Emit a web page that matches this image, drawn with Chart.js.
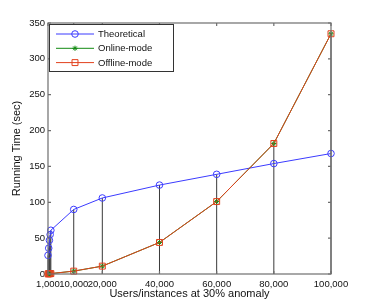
<!DOCTYPE html>
<html>
<head>
<meta charset="utf-8">
<script src="https://cdn.jsdelivr.net/npm/chart.js@4/dist/chart.umd.min.js"></script>
<style>
  html, body { margin: 0; padding: 0; background: #fff; }
  #wrap { width: 365px; height: 308px; position: relative; }
</style>
</head>
<body>
<div id="wrap"><canvas id="chart"></canvas></div>
<script>
const usersX = [1000, 1250, 1500, 1750, 2000, 10000, 20000, 40000, 60000, 80000, 100000];
const theoretical = [26, 36, 47, 55, 61, 90, 106, 124, 139, 154, 168];
const onlineMode = [0.2, 0.3, 0.4, 0.5, 0.6, 4, 11, 44, 101, 182, 335];
const offlineMode = [0.2, 0.3, 0.4, 0.5, 0.6, 4, 11, 44, 101, 182, 335];
const xTickValues = [1000, 10000, 20000, 40000, 60000, 80000, 100000];
const yTickValues = [0, 50, 100, 150, 200, 250, 300, 350];

const FONT = "'Liberation Sans', Arial, Helvetica, sans-serif";

function pts(ys) {
    return usersX.map(function (x, i) { return { x: x, y: ys[i] }; });
}

// vertical stems from 0 up to the highest series value at each x
const stems = usersX.map(function (x, i) {
    const top = Math.max(theoretical[i], onlineMode[i], offlineMode[i]);
    return {
        type: 'line',
        data: [{ x: x, y: 0 }, { x: x, y: top }],
        borderColor: '#3a3a3a',
        borderWidth: 1,
        pointRadius: 0,
        clip: false,
        order: 10
    };
});

const series = [
    { label: 'Theoretical', data: pts(theoretical), color: '#3b3bff', style: 'circle', radius: 3.3 },
    { label: 'Online-mode', data: pts(onlineMode), color: '#128a12', style: 'star', radius: 2.6 },
    { label: 'Offline-mode', data: pts(offlineMode), color: '#e2401c', style: 'rect', radius: 4.2 }
];

const seriesDatasets = series.map(function (s, k) {
    return {
        type: 'line',
        label: s.label,
        data: s.data,
        borderColor: s.color,
        borderWidth: 1,
        tension: 0,
        pointStyle: s.style,
        pointRadius: s.radius,
        pointBorderColor: s.color,
        pointBackgroundColor: 'rgba(0,0,0,0)',
        pointBorderWidth: 1,
        clip: false,
        order: 3 - k
    };
});

const framePlugin = {
    id: 'frame',
    afterDatasetsDraw: function (chart) {
        const ctx = chart.ctx;
        const a = chart.chartArea;
        const xs = chart.scales.x;
        const ys = chart.scales.y;
        ctx.save();
        ctx.strokeStyle = '#6e6e6e';
        ctx.lineWidth = 1.2;
        ctx.strokeRect(a.left, a.top, a.right - a.left, a.bottom - a.top);
        ctx.beginPath();
        xTickValues.forEach(function (v) {
            const px = xs.getPixelForValue(v);
            ctx.moveTo(px, a.bottom); ctx.lineTo(px, a.bottom - 3);
            ctx.moveTo(px, a.top); ctx.lineTo(px, a.top + 3);
        });
        yTickValues.forEach(function (v) {
            const py = ys.getPixelForValue(v);
            ctx.moveTo(a.left, py); ctx.lineTo(a.left + 3, py);
            ctx.moveTo(a.right, py); ctx.lineTo(a.right - 3, py);
        });
        ctx.stroke();

        // legend box
        const bx = a.left + 1, by = a.top + 1, bw = 124, bh = 47;
        ctx.fillStyle = '#fff';
        ctx.fillRect(bx, by, bw, bh);
        ctx.strokeStyle = '#333';
        ctx.lineWidth = 1;
        ctx.strokeRect(bx + 0.5, by + 0.5, bw, bh);
        ctx.font = '9.5px ' + FONT;
        ctx.textBaseline = 'middle';
        series.forEach(function (s, i) {
            const ry = by + 10 + i * 14.3;
            ctx.strokeStyle = s.color;
            ctx.lineWidth = 1;
            ctx.beginPath();
            ctx.moveTo(bx + 7, ry); ctx.lineTo(bx + 45, ry);
            ctx.stroke();
            ctx.fillStyle = 'rgba(0,0,0,0)';
            Chart.helpers.drawPoint(ctx, { pointStyle: s.style, radius: s.radius, borderWidth: 1, rotation: 0 }, bx + 26, ry);
            ctx.fillStyle = '#111';
            ctx.fillText(s.label, bx + 49, ry + 0.5);
        });
        ctx.restore();
    }
};

new Chart(document.getElementById('chart'), {
    type: 'line',
    data: { datasets: stems.concat(seriesDatasets) },
    options: {
        responsive: true,
        maintainAspectRatio: false,
        animation: false,
        layout: { padding: { left: 0, right: 34, top: 23, bottom: 0 } },
        plugins: { legend: { display: false }, tooltip: { enabled: false } },
        scales: {
            x: {
                type: 'linear',
                min: 1000,
                max: 100000,
                grid: { display: false, drawTicks: false },
                border: { display: false },
                afterBuildTicks: function (scale) {
                    scale.ticks = xTickValues.map(function (v) { return { value: v }; });
                },
                afterFit: function (scale) { scale.height = 34; },
                ticks: {
                    autoSkip: false,
                    maxRotation: 0,
                    padding: 5,
                    color: '#111',
                    font: { family: FONT, size: 9.5 },
                    callback: function (v) { return Number(v).toLocaleString('en-US'); }
                },
                title: {
                    display: true,
                    text: 'Users/instances at 30% anomaly',
                    color: '#111',
                    font: { family: FONT, size: 11 },
                    padding: { top: 0, bottom: 7 }
                }
            },
            y: {
                min: 0,
                max: 350,
                grid: { display: false, drawTicks: false },
                border: { display: false },
                afterBuildTicks: function (scale) {
                    scale.ticks = yTickValues.map(function (v) { return { value: v }; });
                },
                afterFit: function (scale) { scale.width = 48; },
                ticks: {
                    padding: 3,
                    color: '#111',
                    font: { family: FONT, size: 9.5 }
                },
                title: {
                    display: true,
                    text: 'Running Time (sec)',
                    color: '#111',
                    font: { family: FONT, size: 11 },
                    padding: { top: 10, bottom: 0 }
                }
            }
        }
    },
    plugins: [framePlugin]
});
</script>
</body>
</html>
